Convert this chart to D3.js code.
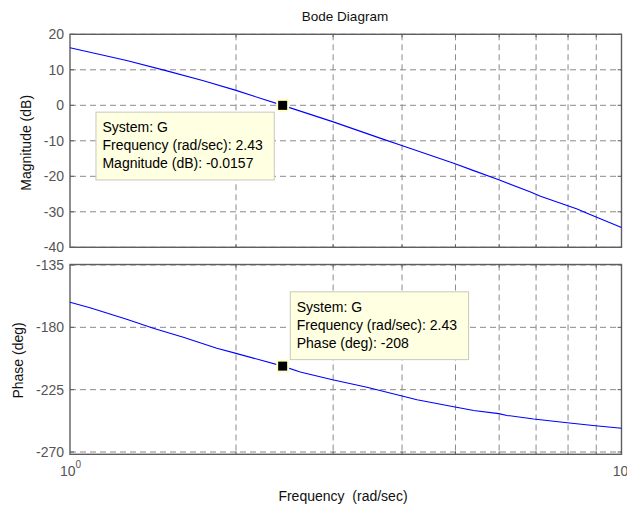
<!DOCTYPE html>
<html>
<head>
<meta charset="utf-8">
<script src="https://cdn.jsdelivr.net/npm/d3@7"></script>
<style>
  html, body { margin: 0; padding: 0; background: #fff; }
  svg { display: block; font-family: "Liberation Sans", Arial, sans-serif; }
</style>
</head>
<body>
<svg id="chart" width="627" height="508"></svg>
<script>
// ---------------- data ----------------
const title = "Bode Diagram";
const xLabel = "Frequency  (rad/sec)";
const magLabel = "Magnitude (dB)";
const phaseLabel = "Phase (deg)";

const magFreq = [1.0, 1.267, 1.498, 1.746, 2.0, 2.151, 2.43, 2.992, 3.704, 3.97, 4.963, 5.395, 5.99, 6.84, 7.13, 8.31, 8.66, 10];
const magDb   = [16.2, 12.6, 9.7, 6.9, 4.2, 2.6, -0.0157, -4.6, -9.6, -11.2, -16.3, -18.4, -21.0, -24.4, -25.6, -29.2, -30.4, -34.4];

const phaseFreq = [1.0, 1.087, 1.267, 1.416, 1.605, 1.846, 2.0, 2.43, 2.615, 2.992, 3.455, 4.0, 4.258, 4.963, 5.395, 5.99, 6.2, 6.93, 7.97, 8.97, 10];
const phaseDeg  = [-161.9, -165.8, -174.2, -180.7, -187.2, -195.1, -198.8, -208, -212.3, -217.8, -223.3, -229.6, -232.3, -237.3, -240.0, -242.3, -243.6, -246.2, -248.9, -251.0, -252.9];

const magTicks = [20, 10, 0, -10, -20, -30, -40];
const phaseTicks = [-135, -180, -225, -270];
const xGridTicks = [2, 3, 4, 5, 6, 7, 8, 9];

const tipFreq = 2.43;
const tipMag = -0.0157;
const tipPhase = -208;
const magTipLines = ["System: G", "Frequency (rad/sec): 2.43", "Magnitude (dB): -0.0157"];
const phaseTipLines = ["System: G", "Frequency (rad/sec): 2.43", "Phase (deg): -208"];

// ---------------- layout ----------------
const svg = d3.select("#chart");
const L = 70, R = 621.5;
const magTop = 34.3, magBot = 247.3;
const phTop = 264.5, phBot = 454.3;

const x = d3.scaleLog().domain([1, 10]).range([L, R]);
const yMag = d3.scaleLinear().domain([-40, 20]).range([magBot, magTop]);
const yPh = d3.scaleLinear().domain([-271.66, -134.64]).range([phBot, phTop]);

svg.append("rect").attr("width", 627).attr("height", 508).attr("fill", "#fff");

const gridColor = "#8a8a8a";
const boxColor = "#5e5e5e";
const tickColor = "#555";

function panel(yScale, ticks, top, bot) {
  const g = svg.append("g");
  g.selectAll("line.hg").data(ticks).enter().append("line")
    .attr("x1", L).attr("x2", R)
    .attr("y1", d => yScale(d)).attr("y2", d => yScale(d))
    .attr("stroke", gridColor).attr("stroke-width", 1)
    .attr("stroke-dasharray", "6,4");
  g.selectAll("line.vg").data(xGridTicks).enter().append("line")
    .attr("x1", d => x(d)).attr("x2", d => x(d))
    .attr("y1", top).attr("y2", bot)
    .attr("stroke", gridColor).attr("stroke-width", 1)
    .attr("stroke-dasharray", "6,4");
  g.selectAll("line.xt1").data(xGridTicks).enter().append("line")
    .attr("x1", d => x(d)).attr("x2", d => x(d))
    .attr("y1", bot).attr("y2", bot - 3).attr("stroke", boxColor);
  g.selectAll("line.xt2").data(xGridTicks).enter().append("line")
    .attr("x1", d => x(d)).attr("x2", d => x(d))
    .attr("y1", top).attr("y2", top + 3).attr("stroke", boxColor);
  g.selectAll("line.yt1").data(ticks).enter().append("line")
    .attr("x1", L).attr("x2", L + 4)
    .attr("y1", d => yScale(d)).attr("y2", d => yScale(d)).attr("stroke", boxColor);
  g.selectAll("line.yt2").data(ticks).enter().append("line")
    .attr("x1", R).attr("x2", R - 4)
    .attr("y1", d => yScale(d)).attr("y2", d => yScale(d)).attr("stroke", boxColor);
  g.append("rect").attr("x", L).attr("y", top)
    .attr("width", R - L).attr("height", bot - top)
    .attr("fill", "none").attr("stroke", boxColor).attr("stroke-width", 1.4);
  g.selectAll("text.yl").data(ticks).enter().append("text")
    .attr("x", L - 6).attr("y", d => yScale(d))
    .attr("dy", "0.36em")
    .attr("text-anchor", "end")
    .attr("font-size", 14).attr("fill", tickColor)
    .text(d => d);
  return g;
}

panel(yMag, magTicks, magTop, magBot);
panel(yPh, phaseTicks, phTop, phBot);

// curves
const magData = magFreq.map((f, i) => [f, magDb[i]]);
const phData = phaseFreq.map((f, i) => [f, phaseDeg[i]]);

svg.append("path").datum(magData)
  .attr("d", d3.line().x(d => x(d[0])).y(d => yMag(d[1])))
  .attr("fill", "none").attr("stroke", "#0000ff").attr("stroke-width", 1.1);
svg.append("path").datum(phData)
  .attr("d", d3.line().x(d => x(d[0])).y(d => yPh(d[1])))
  .attr("fill", "none").attr("stroke", "#0000ff").attr("stroke-width", 1.1);

// title and labels
svg.append("text").attr("x", 345).attr("y", 20.5)
  .attr("text-anchor", "middle").attr("font-size", 13.5).attr("fill", "#111")
  .text(title);
svg.append("text").attr("x", 343).attr("y", 501)
  .attr("text-anchor", "middle").attr("font-size", 14).attr("fill", "#111")
  .attr("xml:space", "preserve").style("white-space", "pre")
  .text(xLabel);
svg.append("text")
  .attr("transform", `translate(26,${(magTop + magBot) / 2 + 2}) rotate(-90)`)
  .attr("text-anchor", "middle").attr("dy", "0.35em")
  .attr("font-size", 14).attr("fill", "#111")
  .text(magLabel);
svg.append("text")
  .attr("transform", `translate(18.5,${(phTop + phBot) / 2 + 1}) rotate(-90)`)
  .attr("text-anchor", "middle").attr("dy", "0.35em")
  .attr("font-size", 14).attr("fill", "#111")
  .text(phaseLabel);

// x tick labels: 10^0 and 10
const xl = svg.append("text").attr("x", x(1) - 10).attr("y", 476)
  .attr("font-size", 14).attr("fill", tickColor);
xl.append("tspan").text("10");
xl.append("tspan").attr("font-size", 10).attr("dy", -8).text("0");
svg.append("text").attr("x", x(10) - 1).attr("y", 476)
  .attr("text-anchor", "middle").attr("font-size", 14).attr("fill", tickColor)
  .text("10");

// data tips
function dataTip(px, py, lines, bx, by) {
  const w = 178.3, h = 67.8;
  svg.append("rect").attr("x", bx).attr("y", by).attr("width", w).attr("height", h)
    .attr("fill", "#ffffe1").attr("stroke", "#c9c9bd").attr("stroke-width", 1);
  svg.selectAll(null).data(lines).enter().append("text")
    .attr("x", bx + 6.5).attr("y", (d, i) => by + 20 + i * 18)
    .attr("font-size", 14).attr("fill", "#000")
    .text(d => d);
  svg.append("rect").attr("x", px - 5.5).attr("y", py - 5.5)
    .attr("width", 11).attr("height", 11)
    .attr("fill", "#000").attr("stroke", "#ffffcc").attr("stroke-width", 2);
}

const mx = x(tipFreq), my = yMag(tipMag), pyy = yPh(tipPhase);
dataTip(mx, my, magTipLines, mx - 186.7, my + 6.8);
dataTip(mx, pyy, phaseTipLines, mx + 7.6, pyy - 74.3);
</script>
</body>
</html>
